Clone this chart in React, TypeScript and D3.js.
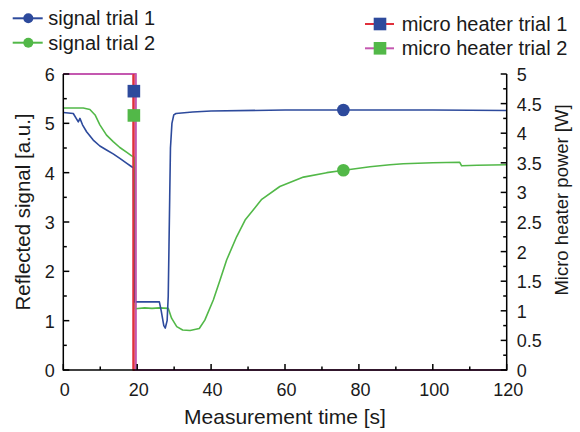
import React from "react";
import * as d3 from "d3";

const signal1: [number, number][] = [
  [0, 5.22], [2.7, 5.2], [4.06, 5.03], [4.5, 5.1], [5.2, 4.97], [6.3, 4.83], [8.1, 4.66],
  [9.9, 4.54], [11.7, 4.46], [13.5, 4.38], [15.3, 4.29], [17.2, 4.19], [18.5, 4.12], [19.0, 4.1],
  [19.2, 1.38], [26.0, 1.38], [26.5, 1.2], [27.2, 0.9], [27.6, 0.85], [28.1, 1.0], [28.4, 1.5],
  [28.6, 2.5], [28.8, 3.5], [29.0, 4.5], [29.4, 5.0], [29.9, 5.17], [30.5, 5.2], [35, 5.23],
  [40, 5.25], [60, 5.27], [80, 5.27], [100, 5.27], [120, 5.26],
];

const signal2: [number, number][] = [
  [0, 5.31], [5.4, 5.31], [7.2, 5.28], [8.6, 5.17], [9.9, 4.97], [11.7, 4.76], [13.5, 4.63],
  [15.3, 4.51], [17.2, 4.41], [18.5, 4.34], [19.3, 4.31], [19.5, 1.24], [22, 1.26], [24, 1.25],
  [26, 1.26], [28.4, 1.25], [29.3, 1.05], [30.7, 0.88], [32.3, 0.81], [34.3, 0.8], [36.8, 0.84],
  [38.3, 1.01], [40.6, 1.42], [42.4, 1.82], [44.2, 2.23], [46.9, 2.7], [49.2, 3.04], [53.7, 3.46],
  [58.6, 3.72], [65, 3.91], [71.3, 4.0], [76, 4.05], [83, 4.12], [88.4, 4.16], [92, 4.18],
  [100, 4.2], [107.3, 4.21], [107.8, 4.14], [112, 4.15], [120, 4.16],
];

const heater1: [number, number][] = [[0, 5], [19.0, 5], [19.0, 0], [120, 0]];
const heater2: [number, number][] = [[0, 5], [19.6, 5], [19.6, 0], [120, 0]];

const circleMarkers = [
  { t: 75.8, v: 5.27, key: "s1" },
  { t: 75.8, v: 4.05, key: "s2" },
];
const squareMarkers = [
  { t: 19.1, p: 4.71, key: "h1" },
  { t: 19.1, p: 4.3, key: "h2" },
];

const xTicks = [0, 20, 40, 60, 80, 100, 120];
const xMinor = [10, 30, 50, 70, 90, 110];
const yTicks = [0, 1, 2, 3, 4, 5, 6];
const yMinor = [0.5, 1.5, 2.5, 3.5, 4.5, 5.5];
const y2Ticks = [0, 0.5, 1, 1.5, 2, 2.5, 3, 3.5, 4, 4.5, 5];
const y2Minor = [0.25, 0.75, 1.25, 1.75, 2.25, 2.75, 3.25, 3.75, 4.25, 4.75];

const legendLeft = ["signal trial 1", "signal trial 2"];
const legendRight = ["micro heater trial 1", "micro heater trial 2"];

const BLUE = "#2d4a9c";
const GREEN = "#52b848";
const RED = "#e0303c";
const MAGENTA = "#c458b0";
const TEXT = "#1a1a1a";
const FONT = "'Liberation Sans', Arial, Helvetica, sans-serif";

export default function App() {
  const W = 580, H = 432;
  const L = 63.3, R = 506.7, T = 74, B = 370;
  const x = d3.scaleLinear().domain([0, 120]).range([L, R]);
  const y = d3.scaleLinear().domain([0, 6]).range([B, T]);
  const y2 = d3.scaleLinear().domain([0, 5]).range([B, T]);

  const line = d3.line<[number, number]>().x((d) => x(d[0])).y((d) => y(d[1]));
  const line2 = d3.line<[number, number]>().x((d) => x(d[0])).y((d) => y2(d[1]));

  return (
    <svg width={W} height={H} style={{ position: "absolute", left: 0, top: 0, background: "#fff" }} fontFamily={FONT}>
      <rect width={W} height={H} fill="#fff" />
      {/* heater lines */}
      <path d={line2(heater1) || ""} fill="none" stroke={RED} strokeWidth={2} />
      <path d={line2(heater2) || ""} fill="none" stroke={MAGENTA} strokeWidth={2} />
      {/* signal lines */}
      <path d={line(signal2) || ""} fill="none" stroke={GREEN} strokeWidth={1.6} strokeLinejoin="round" />
      <path d={line(signal1) || ""} fill="none" stroke={BLUE} strokeWidth={1.6} strokeLinejoin="round" />
      {/* heater drops drawn again on top of signal drops */}
      <line x1={x(19.0)} x2={x(19.0)} y1={y2(5)} y2={y2(0)} stroke={RED} strokeWidth={2} />
      <line x1={x(19.6)} x2={x(19.6)} y1={y2(5)} y2={y2(0)} stroke={MAGENTA} strokeWidth={1.5} />

      {/* markers */}
      <circle cx={x(circleMarkers[0].t)} cy={y(circleMarkers[0].v)} r={6.3} fill={BLUE} />
      <circle cx={x(circleMarkers[1].t)} cy={y(circleMarkers[1].v)} r={6.3} fill={GREEN} />
      <rect x={x(squareMarkers[0].t) - 6.3} y={y2(squareMarkers[0].p) - 6.3} width={12.6} height={12.6} fill={BLUE} />
      <rect x={x(squareMarkers[1].t) - 6.3} y={y2(squareMarkers[1].p) - 6.3} width={12.6} height={12.6} fill={GREEN} />

      {/* axes */}
      <g stroke="#000" strokeWidth={1.5} fill="none">
        <line x1={L} x2={L} y1={T} y2={B + 0.75} />
        <line x1={R} x2={R} y1={T} y2={B + 0.75} />
        <line x1={L} x2={R} y1={B} y2={B} />
        {xTicks.map((t) => <line key={"xt" + t} x1={x(t)} x2={x(t)} y1={B} y2={B - 6} />)}
        {xMinor.map((t) => <line key={"xm" + t} x1={x(t)} x2={x(t)} y1={B} y2={B - 3.5} />)}
        {yTicks.map((t) => <line key={"yt" + t} x1={L} x2={L + 6} y1={y(t)} y2={y(t)} />)}
        {yMinor.map((t) => <line key={"ym" + t} x1={L} x2={L + 3.5} y1={y(t)} y2={y(t)} />)}
        {y2Ticks.map((t) => <line key={"y2t" + t} x1={R} x2={R - 6} y1={y2(t)} y2={y2(t)} />)}
        {y2Minor.map((t) => <line key={"y2m" + t} x1={R} x2={R - 3.5} y1={y2(t)} y2={y2(t)} />)}
      </g>

      {/* tick labels */}
      <g fill={TEXT} fontSize={18}>
        {xTicks.map((t) => (
          <text key={"xl" + t} x={x(t) + 1.5} y={B + 26} textAnchor="middle">{t}</text>
        ))}
        {yTicks.map((t) => (
          <text key={"yl" + t} x={L - 8.5} y={y(t) + 7} textAnchor="end">{t}</text>
        ))}
        {y2Ticks.map((t) => (
          <text key={"y2l" + t} x={R + 10} y={y2(t) + 7} textAnchor="start">{t}</text>
        ))}
      </g>

      {/* axis titles */}
      <g fill={TEXT}>
        <text x={(L + R) / 2} y={424} textAnchor="middle" fontSize={21}>Measurement time [s]</text>
        <text transform={`translate(30, 212) rotate(-90)`} textAnchor="middle" fontSize={20.5}>Reflected signal [a.u.]</text>
        <text transform={`translate(568, 200) rotate(-90)`} textAnchor="middle" fontSize={18.5}>Micro heater power [W]</text>
      </g>

      {/* legends */}
      <g fontSize={20} fill={TEXT}>
        {legendLeft.map((name, i) => {
          const cy = 18.3 + i * 24.4;
          const col = i === 0 ? BLUE : GREEN;
          return (
            <g key={name}>
              <line x1={12.7} x2={42.7} y1={cy} y2={cy} stroke={col} strokeWidth={2} />
              <circle cx={28.3} cy={cy} r={5} fill={col} />
              <text x={48.3} y={cy + 7}>{name}</text>
            </g>
          );
        })}
        {legendRight.map((name, i) => {
          const cy = 24 + i * 24.3;
          const col = i === 0 ? RED : MAGENTA;
          const mk = i === 0 ? BLUE : GREEN;
          return (
            <g key={name}>
              <line x1={365} x2={394} y1={cy} y2={cy} stroke={col} strokeWidth={2} />
              <rect x={380 - 6.3} y={cy - 6.3} width={12.6} height={12.6} fill={mk} />
              <text x={401.7} y={cy + 7}>{name}</text>
            </g>
          );
        })}
      </g>
    </svg>
  );
}
